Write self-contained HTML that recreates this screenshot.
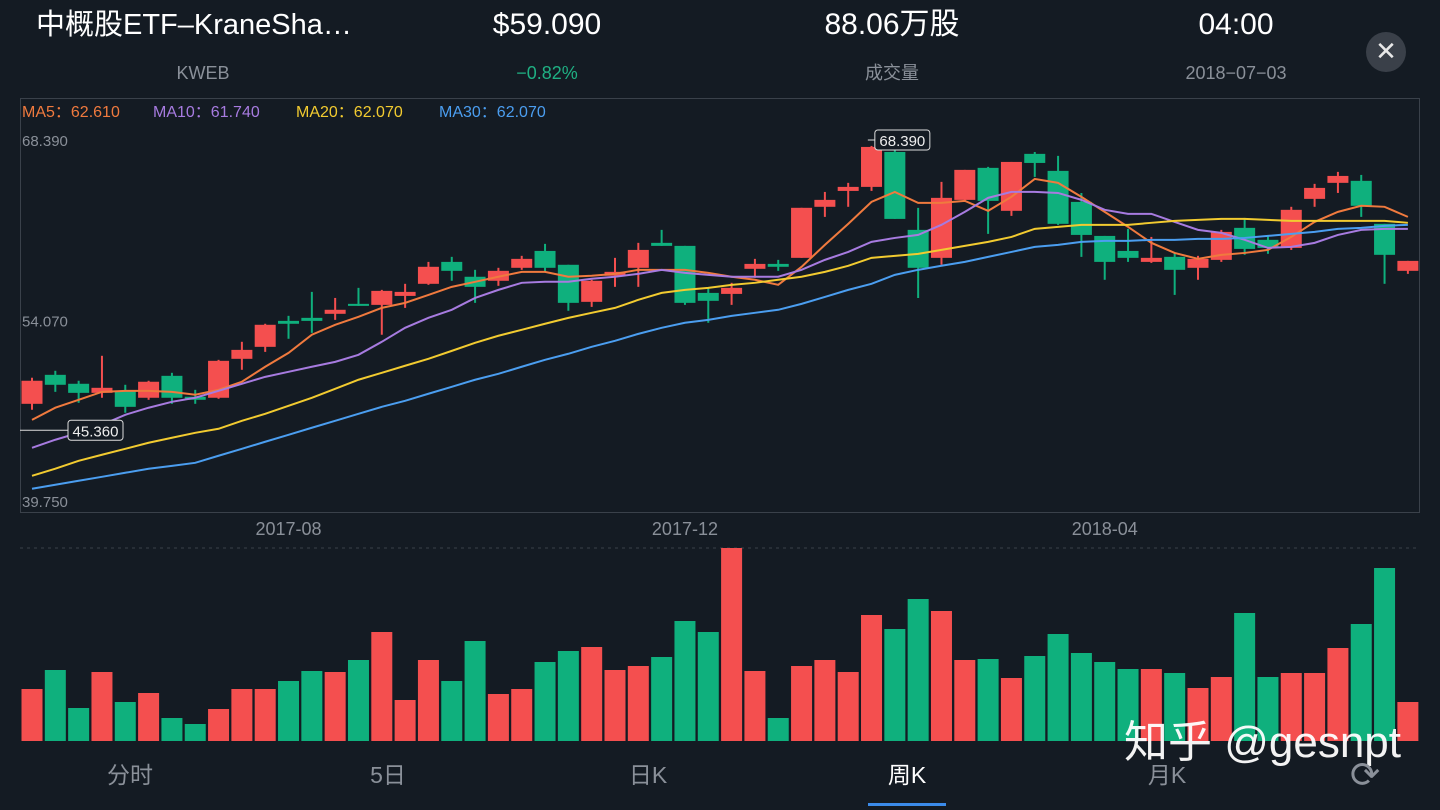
<!DOCTYPE html>
<html><head><meta charset="utf-8">
<style>
body{margin:0;width:1440px;height:810px;background:#141b23;overflow:hidden;font-family:"Liberation Sans","Noto Sans CJK SC",sans-serif;color:#fff;position:relative}
.t{position:absolute;white-space:nowrap}
.c{transform:translateX(-50%)}
.h1{top:7px;font-size:30px;line-height:36px;height:36px}
.h2{top:62px;font-size:18px;line-height:22px;height:22px}
</style></head><body>
<div class="t h1" style="left:36px;font-size:29px">中概股ETF–KraneSha…</div>
<div class="t c h1" style="left:547px">$59.090</div>
<div class="t c h1" style="left:892px">88.06万股</div>
<div class="t c h1" style="left:1236px">04:00</div>
<div class="t c h2" style="left:203px;color:#8a9099">KWEB</div>
<div class="t c h2" style="left:547px;color:#1fb083">−0.82%</div>
<div class="t c h2" style="left:892px;color:#8a9099">成交量</div>
<div class="t c h2" style="left:1236px;color:#8a9099">2018−07−03</div>
<div class="t" style="left:1366px;top:32px;width:40px;height:40px;border-radius:50%;background:#3a4049;text-align:center;line-height:38px;font-size:26px;color:#e8e8e8">✕</div>
<svg id="chart" width="1440" height="810" style="position:absolute;left:0;top:0"></svg>
<div class="t c" style="left:130px;top:760px;font-size:23px;line-height:30px;color:#8a9099">分时</div>
<div class="t c" style="left:388px;top:760px;font-size:23px;line-height:30px;color:#8a9099">5日</div>
<div class="t c" style="left:648px;top:760px;font-size:23px;line-height:30px;color:#8a9099">日K</div>
<div class="t c" style="left:907px;top:760px;font-size:23px;line-height:30px;color:#fff">周K</div>
<div class="t" style="left:868px;top:803px;width:78px;height:3px;background:#3b8bea"></div>
<div class="t c" style="left:1167px;top:760px;font-size:23px;line-height:30px;color:#8a9099">月K</div>
<div class="t" style="left:1124px;top:716px;font-size:44px;line-height:54px;color:#fff;opacity:.95">知乎 @gesnpt</div>
<div class="t" style="left:1350px;top:754px;font-size:36px;color:#8a9099">⟳</div>
<script>
const opens=[47.46,49.76,49.05,48.33,48.49,47.94,49.68,48.02,47.94,51.03,51.98,54.04,54.28,54.60,55.39,55.31,56.02,56.98,58.72,57.54,57.22,58.25,59.59,58.49,55.55,57.62,58.25,60.23,59.99,56.26,56.18,58.17,58.56,59.04,63.09,64.35,64.67,67.44,61.26,59.04,63.64,66.18,62.77,67.29,65.94,63.48,60.78,59.59,58.72,59.12,58.25,58.88,61.42,60.47,59.83,63.72,64.99,65.15,61.74,58.01];
const closes=[49.29,48.97,48.33,48.73,47.22,49.21,47.94,47.78,50.87,51.74,53.73,53.81,54.04,54.92,55.23,56.42,56.34,58.33,58.01,56.74,58.01,58.96,58.25,55.47,57.22,57.93,59.67,59.99,55.47,55.63,56.66,58.56,58.33,63.01,63.64,64.67,67.84,62.13,58.25,63.80,66.02,63.56,66.65,66.57,61.74,60.86,58.72,59.04,59.04,58.09,58.96,61.10,59.75,59.83,62.85,64.59,65.54,63.17,59.28,58.80];
const highs=[49.53,50.08,49.29,51.27,48.97,49.29,49.92,48.57,50.95,52.38,53.81,54.44,56.34,55.86,56.66,56.50,56.98,58.72,59.12,58.09,58.25,59.20,60.15,58.49,57.30,59.04,60.23,61.26,59.99,56.66,57.06,58.96,58.88,63.01,64.27,64.99,67.92,68.39,63.01,65.07,66.02,66.26,66.65,67.44,67.13,64.19,60.78,61.34,60.70,59.43,59.20,61.26,62.21,60.78,63.09,64.91,65.86,65.62,61.74,58.80];
const lows=[46.99,48.41,47.54,47.94,46.75,47.78,47.46,47.46,47.86,50.16,51.58,52.62,53.09,54.12,55.23,52.94,55.07,56.90,57.22,55.47,56.82,58.09,57.93,54.84,55.15,56.74,56.74,59.99,55.31,53.89,55.31,57.46,58.01,59.04,62.29,63.09,64.35,62.13,55.86,58.49,63.48,60.94,62.37,65.46,61.66,59.12,57.30,58.72,58.64,56.10,57.30,58.72,59.28,59.36,59.67,63.09,64.19,62.29,56.98,57.77];
const ma5=[46.19,47.15,47.78,48.41,48.49,48.49,48.41,48.18,48.57,49.21,50.40,51.50,52.94,53.73,54.36,55.07,55.47,56.10,56.74,57.14,57.54,57.93,57.93,57.54,57.62,57.77,58.09,58.09,58.09,57.85,57.54,57.30,56.90,58.33,60.07,61.74,63.48,64.27,63.40,63.40,63.56,62.77,63.88,65.30,64.99,63.88,62.69,61.50,60.23,59.43,58.96,59.28,59.43,59.67,60.70,61.89,62.69,63.17,63.09,62.29];
const ma10=[43.97,44.61,45.16,45.80,46.59,47.15,47.62,47.94,48.49,49.05,49.60,50.00,50.40,50.79,51.35,52.38,53.49,54.28,54.92,55.86,56.50,57.06,57.14,57.14,57.38,57.54,57.77,58.09,57.85,57.69,57.54,57.54,57.54,58.09,58.88,59.51,60.31,60.62,60.86,61.66,62.69,63.80,64.27,64.27,64.19,63.64,62.85,62.53,62.53,61.89,61.26,61.02,60.47,59.83,59.91,60.23,60.86,61.26,61.34,61.34];
const ma20=[41.75,42.31,42.94,43.42,43.89,44.37,44.77,45.16,45.48,46.11,46.67,47.30,47.94,48.65,49.37,49.92,50.48,51.03,51.66,52.30,52.86,53.33,53.81,54.28,54.68,55.07,55.71,56.26,56.50,56.66,56.90,57.06,57.30,57.54,57.93,58.41,59.04,59.20,59.36,59.67,59.99,60.31,60.70,61.34,61.50,61.66,61.66,61.66,61.82,61.97,62.05,62.13,62.13,62.05,61.97,61.97,61.97,61.97,61.97,61.82];
const ma30=[40.72,41.04,41.36,41.67,41.99,42.31,42.54,42.78,43.34,43.89,44.45,45.00,45.56,46.11,46.67,47.22,47.70,48.26,48.81,49.37,49.84,50.40,50.95,51.43,51.98,52.46,53.01,53.49,53.89,54.12,54.44,54.68,54.92,55.39,55.94,56.50,56.98,57.69,58.09,58.41,58.72,59.12,59.51,59.91,60.07,60.31,60.39,60.39,60.47,60.47,60.55,60.55,60.62,60.78,60.94,61.10,61.34,61.42,61.58,61.66];
const volumes=[52,71,33,69,39,48,23,17,32,52,52,60,70,69,81,109,41,81,60,100,47,52,79,90,94,71,75,84,120,109,193,70,23,75,81,69,126,112,142,130,81,82,63,85,107,88,79,72,72,68,53,64,128,64,68,68,93,117,173,39];
const priceTicks=["68.390","54.070","39.750"];
const tickValues=[68.39,54.07,39.75];
const dateLabels=["2017-08","2017-12","2018-04"];
const dateIdx=[11.0,28.0,46.0];
const legendNames=["MA5","MA10","MA20","MA30"];
const legendVals=["62.610","61.740","62.070","62.070"];

const NS="http://www.w3.org/2000/svg",svg=document.getElementById('chart');
const RED="#f44f4f",GRN="#0fb07d",GRAY="#8a9099";
const xOf=i=>32+i*23.32;
const yOf=p=>140+(68.39-p)*(361/28.64);
const vTop=548,vBase=741,vMax=193;
const yV=v=>vBase-v/vMax*(vBase-vTop);
function mk(tag,at,name){const e=document.createElementNS(NS,tag);for(const k in at)e.setAttribute(k,at[k]);


svg.appendChild(e);return e;}
mk('rect',{x:20.5,y:98.5,width:1399,height:414,fill:'none',stroke:'#3a414a','stroke-width':1},'price-plot-frame');
mk('line',{x1:20,x2:1420,y1:548,y2:548,stroke:'#3a414a','stroke-dasharray':'3,4'},'volume-top-gridline');
priceTicks.forEach((t,k)=>{const e=mk('text',{x:22,y:yOf(tickValues[k])+6,fill:GRAY,'font-size':15},'price-tick-label');e.textContent=t;});
dateLabels.forEach((t,k)=>{const e=mk('text',{x:xOf(dateIdx[k]),y:535,fill:GRAY,'font-size':18,'text-anchor':'middle'},'date-tick-label');e.textContent=t;});
const lcol=["#f07a3e","#a77be0","#f2cb30","#4b9ef0"];
let lx=22;legendNames.forEach((n,k)=>{const e=mk('text',{x:lx,y:117,fill:lcol[k],'font-size':16},'legend-entry');e.textContent=n+"："+legendVals[k];lx+= [131,143,143,0][k];});
opens.forEach((o,i)=>{const c=closes[i],col=c>=o?RED:GRN,x=xOf(i);
mk('line',{x1:x,x2:x,y1:yOf(highs[i]),y2:yOf(lows[i]),stroke:col,'stroke-width':2},'candle-wick');
const t=yOf(Math.max(o,c)),b=yOf(Math.min(o,c));
mk('rect',{x:x-10.5,y:t,width:21,height:Math.max(2,b-t),fill:col},'candle-body');
mk('rect',{x:x-10.5,y:yV(volumes[i]),width:21,height:vBase-yV(volumes[i]),fill:col},'volume-bar');});
[ma5,ma10,ma20,ma30].forEach((a,k)=>{mk('polyline',{points:a.map((v,i)=>xOf(i)+','+yOf(v)).join(' '),fill:'none',stroke:lcol[k],'stroke-width':2},'ma-line-'+legendNames[k].toLowerCase());});
let hi=0;highs.forEach((h,i)=>{if(h>highs[hi])hi=i;});
const hy=yOf(highs[hi]),hx=xOf(hi)-20;
mk('line',{x1:hx-7,x2:hx,y1:hy,y2:hy,stroke:'#ddd'},'max-marker-line');
mk('rect',{x:hx,y:hy-10,width:55,height:20,rx:3,fill:'#141b23',stroke:'#ddd'},'max-marker-box');
let e=mk('text',{x:hx+27.5,y:hy+6,fill:'#eee','font-size':15,'text-anchor':'middle'},'max-marker-label');e.textContent=highs[hi].toFixed(3);
const ly=yOf(45.36);
mk('line',{x1:20,x2:68,y1:ly,y2:ly,stroke:'#ddd'},'min-marker-line');
mk('rect',{x:68,y:ly-10,width:55,height:20,rx:3,fill:'#141b23',stroke:'#ddd'},'min-marker-box');
e=mk('text',{x:95.5,y:ly+6,fill:'#eee','font-size':15,'text-anchor':'middle'},'min-marker-label');e.textContent="45.360";
</script>
</body></html>
